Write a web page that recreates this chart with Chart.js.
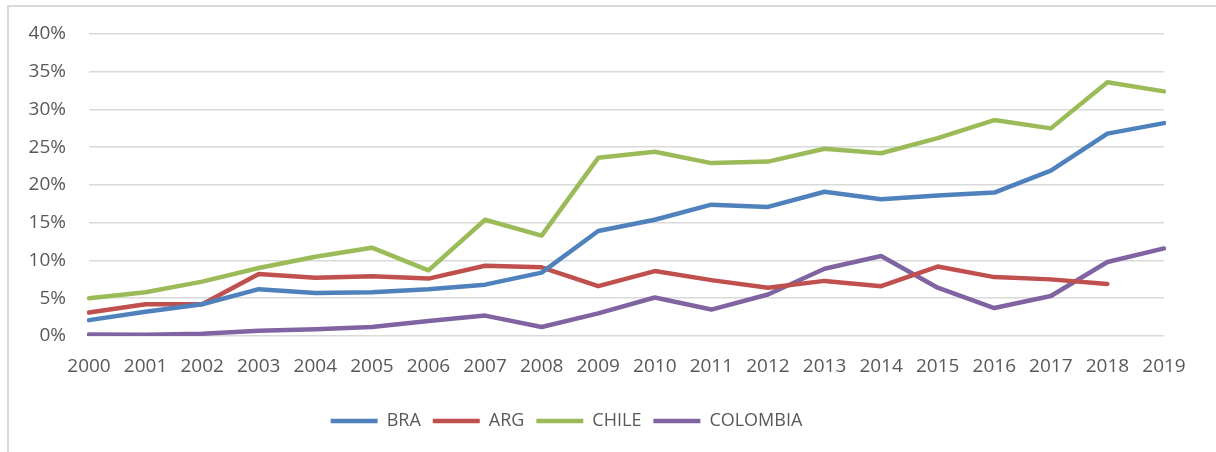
<!DOCTYPE html>
<html lang="es">
<head>
    <meta charset="UTF-8">
    <title>BRA, ARG, CHILE, COLOMBIA 2000-2019</title>
    <style>
        html, body {
            margin: 0;
            padding: 0;
            background: #ffffff;
        }
        .marco {
            position: absolute;
            left: 7px;
            top: 5px;
            width: 1209px;
            height: 447px;
            border-top: 2px solid #d9d9d9;
            border-left: 2px solid #d9d9d9;
            box-sizing: border-box;
        }
        .marco canvas {
            display: block;
        }
    </style>
</head>
<body>
    <div class="marco">
        <canvas id="grafico" width="1207" height="445"></canvas>
    </div>

    <script src="https://cdn.jsdelivr.net/npm/chart.js"></script>
    <script>
        // años del eje horizontal
        const anios = ['2000', '2001', '2002', '2003', '2004', '2005', '2006', '2007', '2008', '2009',
                       '2010', '2011', '2012', '2013', '2014', '2015', '2016', '2017', '2018', '2019'];

        // valores en porcentaje
        const bra      = [2.1, 3.2, 4.2, 6.2, 5.7, 5.8, 6.2, 6.8, 8.4, 13.9, 15.4, 17.4, 17.1, 19.1, 18.1, 18.6, 19.0, 21.9, 26.8, 28.2];
        const arg      = [3.1, 4.2, 4.2, 8.2, 7.7, 7.9, 7.6, 9.3, 9.1, 6.6, 8.6, 7.4, 6.4, 7.3, 6.6, 9.2, 7.8, 7.5, 6.9, null];
        const chile    = [5.0, 5.8, 7.2, 9.0, 10.5, 11.7, 8.7, 15.4, 13.3, 23.6, 24.4, 22.9, 23.1, 24.8, 24.2, 26.2, 28.6, 27.5, 33.6, 32.4];
        const colombia = [0.2, 0.15, 0.3, 0.7, 0.9, 1.2, 2.0, 2.7, 1.2, 3.0, 5.1, 3.5, 5.5, 8.9, 10.6, 6.4, 3.7, 5.3, 9.8, 11.6];

        // marcas del eje vertical
        const ejeMin = 0;
        const ejeMax = 40;
        const ejePaso = 5;

        const gris = '#595959';

        function serie(nombre, datos, color) {
            return {
                label: nombre,
                data: datos,
                borderColor: color,
                backgroundColor: color,
                borderWidth: 4.5,
                borderCapStyle: 'round',
                borderJoinStyle: 'round',
                pointRadius: 0,
                pointHoverRadius: 0,
                pointStyle: 'line',
                tension: 0,
                spanGaps: false
            };
        }

        // corre la leyenda un poco a la izquierda
        const moverLeyenda = {
            id: 'moverLeyenda',
            afterLayout(chart) {
                chart.legend.left -= 20;
                chart.legend.right -= 20;
            }
        };

        window.onload = function() {
            const ctx = document.getElementById('grafico').getContext('2d');
            new Chart(ctx, {
                type: 'line',
                data: {
                    labels: anios,
                    datasets: [
                        serie('BRA', bra, '#4f81bd'),
                        serie('ARG', arg, '#c0504d'),
                        serie('CHILE', chile, '#9bbb59'),
                        serie('COLOMBIA', colombia, '#8064a2')
                    ]
                },
                plugins: [moverLeyenda],
                options: {
                    responsive: false,
                    animation: false,
                    layout: {
                        padding: { top: 27, right: 52, bottom: 12, left: 0 }
                    },
                    plugins: {
                        tooltip: { enabled: false },
                        legend: {
                            position: 'bottom',
                            labels: {
                                usePointStyle: true,
                                pointStyleWidth: 47,
                                boxHeight: 18,
                                padding: 12,
                                color: gris,
                                font: { family: 'Open Sans', size: 18 }
                            }
                        }
                    },
                    scales: {
                        x: {
                            offset: false,
                            grid: { display: false, drawTicks: false },
                            border: { display: false },
                            ticks: {
                                color: gris,
                                font: { family: 'Open Sans', size: 19 },
                                padding: 19,
                                maxRotation: 0,
                                autoSkip: false
                            },
                            afterFit: function(scale) { scale.height = 64; }
                        },
                        y: {
                            min: ejeMin,
                            max: ejeMax,
                            grid: {
                                color: '#d9d9d9',
                                lineWidth: 1.6,
                                drawTicks: true,
                                tickLength: 23,
                                tickColor: 'rgba(0,0,0,0)'
                            },
                            border: { display: false },
                            ticks: {
                                stepSize: ejePaso,
                                color: gris,
                                font: { family: 'Open Sans', size: 19 },
                                padding: 0,
                                callback: function(v) { return v + '%'; }
                            },
                            afterFit: function(scale) { scale.width = 80; }
                        }
                    }
                }
            });
        };
    </script>
</body>
</html>
